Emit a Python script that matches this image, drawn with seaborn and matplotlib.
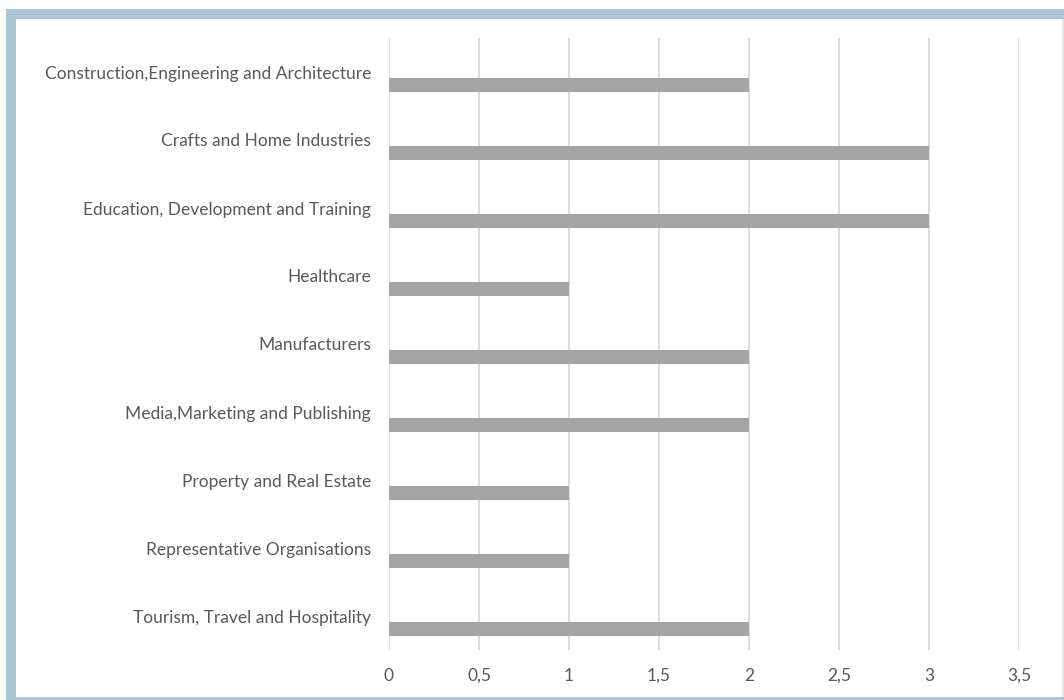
import matplotlib
matplotlib.use("Agg")
import matplotlib.pyplot as plt
import matplotlib.patches as mpatches
import seaborn as sns
import pandas as pd

categories = [
    "Construction,Engineering and Architecture",
    "Crafts and Home Industries",
    "Education, Development and Training",
    "Healthcare",
    "Manufacturers",
    "Media,Marketing and Publishing",
    "Property and Real Estate",
    "Representative Organisations",
    "Tourism, Travel and Hospitality",
]
counts = [2, 3, 3, 1, 2, 2, 1, 1, 2]
x_ticks = [0, 0.5, 1, 1.5, 2, 2.5, 3, 3.5]
x_tick_labels = ["0", "0,5", "1", "1,5", "2", "2,5", "3", "3,5"]

# Two-series layout: an empty leading series keeps the visible bar
# below the category label, as in a clustered bar chart.
series_order = ["blank", "count"]
df = pd.concat([
    pd.DataFrame({"category": categories, "value": [0] * len(categories), "series": "blank"}),
    pd.DataFrame({"category": categories, "value": counts, "series": "count"}),
])

sns.set_theme(style="white")
plt.rcParams["font.family"] = ["Lato", "DejaVu Sans"]

TEXT = "#595959"
GRID = "#d9d9d9"
BAR = "#a5a5a5"
FRAME = "#a9c6d1"

fig = plt.figure(figsize=(10.64, 7.0), dpi=100)
fig.patch.set_facecolor("white")

# Light blue frame around the chart
fw, fh = 1064, 700
fig.patches.append(mpatches.Rectangle((6 / fw, 0), 10 / fw, 691 / fh, transform=fig.transFigure,
                                      facecolor=FRAME, edgecolor="none", zorder=0))
fig.patches.append(mpatches.Rectangle((6 / fw, 681 / fh), 1 - 6 / fw, 10 / fh, transform=fig.transFigure,
                                      facecolor=FRAME, edgecolor="none", zorder=0))
fig.patches.append(mpatches.Rectangle((6 / fw, 0), 1 - 6 / fw, 3 / fh, transform=fig.transFigure,
                                      facecolor=FRAME, edgecolor="none", zorder=0))
fig.patches.append(mpatches.Rectangle((1062 / fw, 3 / fh), 1.5 / fw, 678 / fh, transform=fig.transFigure,
                                      facecolor="#e4e8ea", edgecolor="none", zorder=0))

ax = fig.add_axes([389 / fw, 50 / fh, 630 / fw, 612 / fh])
sns.barplot(data=df, y="category", x="value", hue="series", hue_order=series_order,
            palette={"blank": BAR, "count": BAR}, orient="h", width=0.76, gap=0.47,
            dodge=True, legend=False, ax=ax, zorder=3, linewidth=0)

ax.set_xlim(0, 3.5)
ax.set_ylim(len(categories) - 0.5, -0.5)
ax.set_xticks(x_ticks)
ax.set_xticklabels(x_tick_labels)
ax.grid(axis="x", color=GRID, linewidth=1.3, zorder=0)
ax.set_axisbelow(True)
for side in ["top", "right", "bottom", "left"]:
    ax.spines[side].set_visible(False)
ax.tick_params(axis="both", length=0, colors=TEXT, labelsize=12.5)
ax.tick_params(axis="y", pad=13)
ax.tick_params(axis="x", pad=13)
ax.set_xlabel("")
ax.set_ylabel("")

fig.savefig("out.png", dpi=100, facecolor="white")
